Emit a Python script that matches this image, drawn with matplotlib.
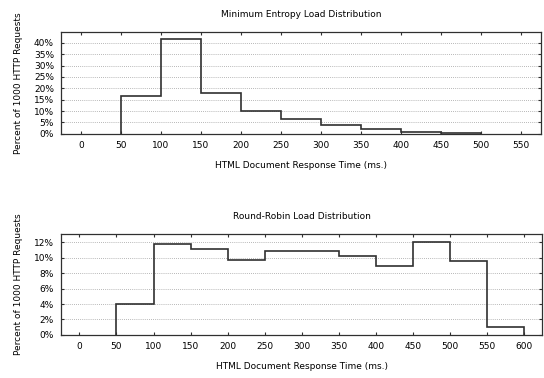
import matplotlib
matplotlib.use("Agg")
import matplotlib.pyplot as plt
import numpy as np

# bin edges (ms) and percent of requests per bin
entropy_edges = [50, 100, 150, 200, 250, 300, 350, 400, 450, 500]
entropy_pct = [16.6, 41.7, 18.1, 10.1, 6.6, 3.7, 2.3, 0.9, 0.4]

rr_edges = [50, 100, 150, 200, 250, 300, 350, 400, 450, 500, 550, 600]
rr_pct = [4.0, 11.8, 11.2, 9.7, 10.85, 10.85, 10.3, 8.9, 12.0, 9.6, 1.0]

entropy_yticks = [0, 5, 10, 15, 20, 25, 30, 35, 40]
rr_yticks = [0, 2, 4, 6, 8, 10, 12]

plt.rcParams['font.family'] = ['DejaVu Sans']
fs = 6.5

fig = plt.figure(figsize=(5.44, 3.78), dpi=100)
ax1 = fig.add_axes([0.112, 0.646, 0.883, 0.269])
ax2 = fig.add_axes([0.112, 0.114, 0.885, 0.267])


def draw(ax, edges, pct, xmax, ymax, yticks, title):
    xs = np.repeat(edges, 2)
    ys = np.concatenate([[0], np.repeat(pct, 2), [0]])
    ax.plot(xs, ys, color='#303030', lw=1.2, solid_joinstyle='miter')
    ax.set_xlim(-25, xmax)
    ax.set_ylim(0, ymax)
    ax.set_xticks(np.arange(0, xmax, 50))
    ax.set_yticks(yticks)
    ax.set_yticklabels(['%d%%' % v for v in yticks])
    ax.yaxis.grid(True, linestyle=(0, (1, 1.5)), color='#a0a0a0', lw=0.6)
    ax.tick_params(direction='in', length=2.5, width=0.8, labelsize=fs,
                   top=True, right=True, pad=5, color='#303030')
    for s in ax.spines.values():
        s.set_color('#303030')
        s.set_linewidth(0.9)
    ax.set_title(title, fontsize=fs, pad=11)
    ax.set_xlabel('HTML Document Response Time (ms.)', fontsize=fs, labelpad=8)
    ax.set_ylabel('Percent of 1000 HTTP Requests', fontsize=fs, labelpad=8)


draw(ax1, entropy_edges, entropy_pct, 575, 44.7, entropy_yticks,
     'Minimum Entropy Load Distribution')
draw(ax2, rr_edges, rr_pct, 625, 13.1, rr_yticks,
     'Round-Robin Load Distribution')

fig.savefig('out.png', dpi=100)
